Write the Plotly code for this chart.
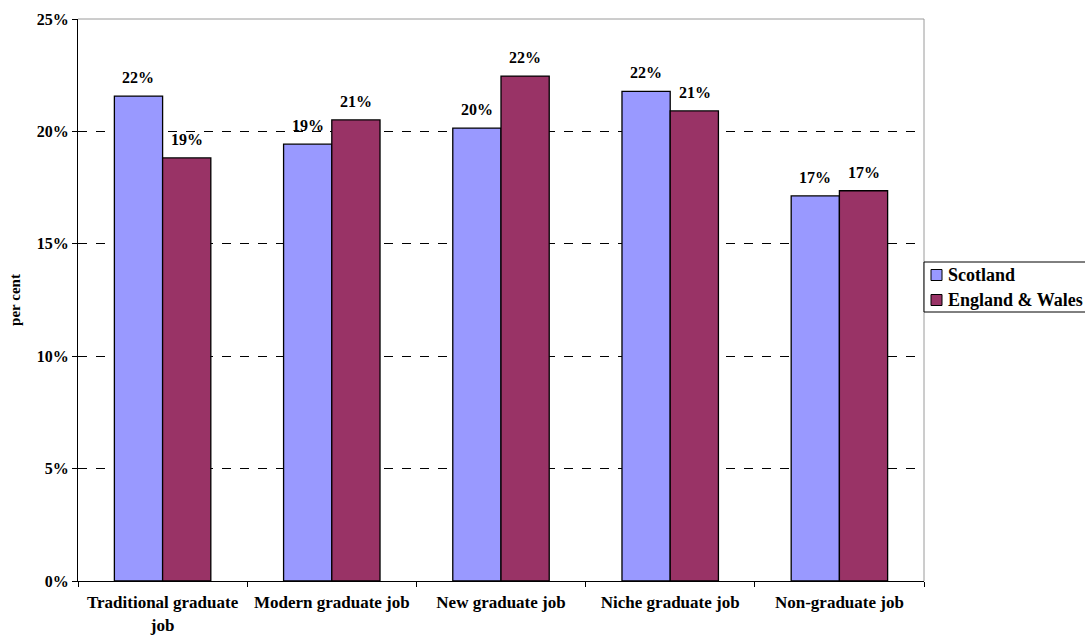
import plotly.graph_objects as go

categories = ["Traditional graduate<br>job", "Modern graduate job", "New graduate job",
              "Niche graduate job", "Non-graduate job"]
scotland = [0.2157, 0.1943, 0.2015, 0.2178, 0.1713]
england_wales = [0.1882, 0.2051, 0.2246, 0.2091, 0.1736]
series_names = ["Scotland", "England & Wales"]
series_colors = ["#9999FF", "#993366"]

FONT = "Liberation Serif"
W, H = 1085, 636
ML, MR, MT, MB = 78, 161, 19, 55
PW, PH = W - ML - MR, H - MT - MB
BAR_HALF_PX = 24.3  # half bar width in pixels, used to centre labels over bars


def px_x(px):
    return (px - ML) / PW


def px_y(py):
    return (H - MB - py) / PH


fig = go.Figure()
annotations = []
shapes = []
for name, vals, color, side in zip(series_names, [scotland, england_wales], series_colors, [-1, 1]):
    fig.add_trace(go.Bar(
        name=name, x=categories, y=vals,
        marker=dict(color=color, line=dict(color="#000000", width=1.3)),
    ))
    for c, v in zip(categories, vals):
        annotations.append(dict(
            x=c, y=v, xref="x", yref="y", text=f"{v:.0%}", showarrow=False,
            xanchor="center", yanchor="bottom", xshift=side * BAR_HALF_PX, yshift=8,
            font=dict(family=FONT, size=16, color="#000000", weight="bold"),
        ))

# plot border (top/right grey)
shapes += [
    dict(type="line", xref="paper", yref="paper", x0=0, x1=1, y0=1, y1=1,
         line=dict(color="#9a9a9a", width=1), layer="above"),
    dict(type="line", xref="paper", yref="paper", x0=1, x1=1, y0=0, y1=1,
         line=dict(color="#9a9a9a", width=1), layer="above"),
]

# custom legend box
shapes.append(dict(type="rect", xref="paper", yref="paper",
                   x0=px_x(924), x1=px_x(1095), y0=px_y(312), y1=px_y(262),
                   line=dict(color="#000000", width=1), fillcolor="white", layer="above"))
for i, (name, color) in enumerate(zip(series_names, series_colors)):
    cy = 275 + 25 * i
    shapes.append(dict(type="rect", xref="paper", yref="paper",
                       x0=px_x(931), x1=px_x(942), y0=px_y(cy + 5.5), y1=px_y(cy - 5.5),
                       line=dict(color="#000000", width=1), fillcolor=color, layer="above"))
    annotations.append(dict(x=px_x(946), y=px_y(cy), xref="paper", yref="paper",
                            text=name, showarrow=False, xanchor="left", yanchor="middle",
                            font=dict(family=FONT, size=18, color="#000000", weight="bold")))

fig.update_layout(
    width=W, height=H,
    margin=dict(l=ML, r=MR, t=MT, b=MB, autoexpand=False),
    paper_bgcolor="white", plot_bgcolor="white",
    font=dict(family=FONT, size=16, color="#000000", weight="bold"),
    barmode="group", bargap=0.43, bargroupgap=0,
    showlegend=False,
    xaxis=dict(
        showline=True, linecolor="#000000", linewidth=1,
        ticks="outside", tickson="boundaries", ticklen=5, tickcolor="#000000",
        tickfont=dict(family=FONT, size=17, weight="bold"),
        ticklabelstandoff=6,
        showgrid=False,
    ),
    yaxis=dict(
        range=[0, 0.25], dtick=0.05, tickformat=".0%",
        showline=True, linecolor="#000000", linewidth=1,
        ticks="outside", ticklen=5, tickcolor="#000000",
        tickfont=dict(family=FONT, size=16, weight="bold"),
        showgrid=True, gridcolor="#000000", gridwidth=1, griddash="dash",
        zeroline=False,
        title=dict(text="per cent", font=dict(family=FONT, size=15, weight="bold"), standoff=12),
    ),
    annotations=annotations,
    shapes=shapes,
)

fig.write_html("out.html")
